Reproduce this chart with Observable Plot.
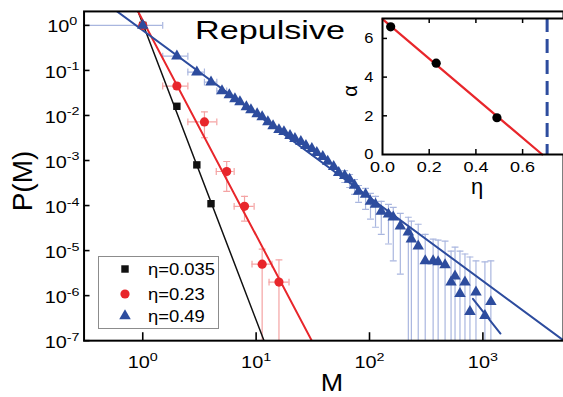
<!DOCTYPE html>
<html><head><meta charset="utf-8">
<script src="https://cdn.jsdelivr.net/npm/d3@7"></script>
<script src="https://cdn.jsdelivr.net/npm/@observablehq/plot@0.6"></script>
<style>
html,body{margin:0;padding:0;overflow:hidden;background:#fff;}
#wrap{position:relative;width:563px;height:397px;overflow:hidden;font-family:"Liberation Sans",Arial,sans-serif;}
#wrap > *{position:absolute;}
</style></head><body><div id="wrap"></div>
<script>
// ---------- data ----------
const seriesNames = ["η=0.035", "η=0.23", "η=0.49"];
const seriesColors = ["#111111", "#e8262b", "#2d4c9e"];
const errColors = ["#888888", "#f4a3a3", "#a9b6df"];

const blackM = [1, 2, 3, 4];
const blackP = [1, 0.016, 8.0e-4, 1.1e-4];

const redM = [1, 2, 3.5, 5.5, 7.9, 11.3, 15.9];
const redP = [1, 0.045, 0.0072, 5.7e-4, 9.6e-5, 5.0e-6, 2.0e-6];
const redMlo = [null, 1.5, 2.5, 4.45, 6.4, 9.2, 13.0];
const redMhi = [null, 2.5, 4.5, 6.4, 9.6, 13.8, 19.5];
const redPlo = [null, 0.038, 0.0032, 2.06e-4, 4.5e-5, 1e-9, 1e-9];
const redPhi = [null, 0.053, 0.012, 9.5e-4, 1.6e-4, 1.08e-5, 6.2e-6];

const blueM = [1, 2, 3, 4, 5, 5.8, 6.5, 7.2, 8.2, 9.0, 10.2, 11.3, 12.7, 14.1, 15.9, 17.6, 19.9, 22.0, 24.8, 27.5,
  31.0, 34.3, 38.7, 42.8, 48.3, 53.5, 60.4, 66.8, 73.8, 80.1, 92.3, 102, 113, 127, 147, 162, 187, 220, 234, 269,
  310, 364, 403, 464, 524, 568, 628, 695, 769, 869, 1042, 1176];
const blueP = [1, 0.207, 0.092, 0.055, 0.035, 0.0285, 0.0232, 0.0200, 0.0155, 0.0133, 0.0108, 0.00931, 0.00722, 0.00589, 0.00481, 0.00434, 0.00355, 0.00304, 0.00261, 0.00213,
  0.00183, 0.00149, 0.00122, 9.5e-4, 7.3e-4, 5.4e-4, 4.6e-4, 3.8e-4, 2.8e-4, 2.06e-4, 1.77e-4, 1.24e-4, 1.06e-4, 7.4e-5, 6.4e-5, 5.5e-5, 3.5e-5, 2.56e-5, 1.79e-5, 1.26e-5,
  5.9e-6, 5.9e-6, 5.6e-6, 4.8e-6, 2.0e-6, 2.7e-6, 1.1e-6, 2.0e-6, 4.4e-7, 1.2e-6, 3.6e-7, 7.3e-7];
// horizontal error bars (first points)
const blueXerrM = [1, 2, 3, 4, 5];
const blueXerrP = [1, 0.207, 0.092, 0.055, 0.035];
const blueXerrLo = [0.25, 1.5, 2.5, 3.5, 4.5];
const blueXerrHi = [1.5, 2.5, 3.5, 4.5, 5.5];
// vertical error bars (tail points, M from 60.4 on)
const blueYerrM = [60.4, 66.8, 73.8, 80.1, 92.3, 102, 113, 127, 147, 162, 187, 220, 234, 269, 310, 364, 403, 464, 524, 568, 628, 695, 769, 869, 1042, 1176];
const blueYerrHi = [5.98e-4, 4.89e-4, 3.79e-4, 2.79e-4, 2.40e-4, 1.86e-4, 1.60e-4, 1.24e-4, 1.06e-4, 9.1e-5, 6.7e-5, 5.5e-5, 4.5e-5, 3.85e-5, 2.3e-5, 1.79e-5, 1.71e-5, 1.62e-5, 9.75e-6, 1.19e-5, 9.75e-6, 8.4e-6, 7.2e-6, 5.9e-6, 5.6e-6, 5.9e-6];
const blueYerrLo = [3.25e-4, 2.52e-4, 1.77e-4, 1.18e-4, 8.2e-5, 5.0e-5, 3.3e-5, 2.3e-5, 1.4e-5, 5.9e-6, 3.0e-6, 1e-9, 1e-9, 1e-9, 1e-9, 1e-9, 1e-9, 1e-9, 1e-9, 1e-9, 1e-9, 1e-9, 1e-9, 1e-9, 1e-9, 1e-9];
// short line in the tail of the η=0.49 data
const blueTailM = [817, 1430];
const blueTailP = [8.5e-7, 1.44e-7];

// power-law fits P = A * M^-alpha
const fitA = [1.09, 1.29, 0.776];
const fitAlpha = [6.58, 4.77, 1.855];
const fitRange = [0.25, 6000];

// axes
const xTickExp = [0, 1, 2, 3];
const yTickExp = [0, -1, -2, -3, -4, -5, -6, -7];
const xDomain = [0.3036, 5140];
const yDomain = [1e-7, 2.04];

// inset: alpha vs eta
const insetEta = [0.035, 0.23, 0.49];
const insetAlpha = [6.6, 4.72, 1.9];
const insetFitAlpha0 = 7.0;   // alpha at eta = 0
const insetFitEtaC = 0.684;   // alpha = 0 crossing
const insetDashedEta = 0.705;
const insetXTicks = [0.0, 0.2, 0.4, 0.6];
const insetYTicks = [0, 2, 4, 6];
const insetXDomain = [0, 0.788];
const insetYDomain = [0, 7.03];

// ---------- build ----------
const NS = "http://www.w3.org/2000/svg";
const FONT = "Liberation Sans, Arial, Helvetica, sans-serif";
const wrap = document.getElementById("wrap");

const rows = (M, P, extra = {}) => M.map((m, i) => {
  const o = {M: m, P: P[i]};
  for (const k in extra) o[k] = extra[k][i];
  return o;
});
const black = rows(blackM, blackP);
const red = rows(redM, redP, {Mlo: redMlo, Mhi: redMhi, Plo: redPlo, Phi: redPhi}).filter(d => d.Mlo != null);
const redAll = rows(redM, redP);
const blue = rows(blueM, blueP);
const blueX = rows(blueXerrM, blueXerrP, {Mlo: blueXerrLo, Mhi: blueXerrHi});
const blueY = blueYerrM.map((m, i) => ({M: m, Plo: blueYerrLo[i], Phi: blueYerrHi[i]}));
const blueTail = rows(blueTailM, blueTailP);
const fits = fitA.map((A, i) => fitRange.map(M => ({M, P: A * Math.pow(M, -fitAlpha[i]), s: i}))).flat();

const hcap = {draw(ctx, size) { const w = Math.sqrt(size); ctx.moveTo(-w / 2, 0); ctx.lineTo(w / 2, 0); }};
const vcap = {draw(ctx, size) { const h = Math.sqrt(size); ctx.moveTo(0, -h / 2); ctx.lineTo(0, h / 2); }};

const W = 566, H = 397, ML = 84, MT = 11, MB = 55, MR = 0;
const PW = W - ML - MR, PH = H - MT - MB;
const xTicks = xTickExp.map(e => Math.pow(10, e));
const yTicks = yTickExp.map(e => Math.pow(10, e));
const expFmt = d => "10^" + Math.round(Math.log10(d));

const capR = 3.9;
function errMarks(data, color, hasX, hasY) {
  const m = [];
  if (hasY) {
    m.push(Plot.ruleX(data, {x: "M", y1: "Plo", y2: "Phi", stroke: color, strokeWidth: 1.2, clip: true}));
    m.push(Plot.dot(data, {x: "M", y: "Phi", symbol: hcap, r: capR, stroke: color, fill: "none", strokeWidth: 1.2, clip: true}));
    m.push(Plot.dot(data.filter(d => d.Plo > 1e-7), {x: "M", y: "Plo", symbol: hcap, r: capR, stroke: color, fill: "none", strokeWidth: 1.2, clip: true}));
  }
  if (hasX) {
    m.push(Plot.ruleY(data, {y: "P", x1: "Mlo", x2: "Mhi", stroke: color, strokeWidth: 1.2, clip: true}));
    m.push(Plot.dot(data.filter(d => d.Mlo > xDomain[0]), {x: "Mlo", y: "P", symbol: vcap, r: capR, stroke: color, fill: "none", strokeWidth: 1.2, clip: true}));
    m.push(Plot.dot(data, {x: "Mhi", y: "P", symbol: vcap, r: capR, stroke: color, fill: "none", strokeWidth: 1.2, clip: true}));
  }
  return m;
}

const main = Plot.plot({
  width: W, height: H, marginLeft: ML, marginTop: MT, marginBottom: MB, marginRight: MR,
  style: {fontFamily: FONT, background: "transparent", color: "#000"},
  x: {type: "log", domain: xDomain},
  y: {type: "log", domain: yDomain},
  marks: [
    ...errMarks(blueX, errColors[2], true, false),
    ...errMarks(blueY, errColors[2], false, true),
    ...errMarks(red, errColors[1], true, true),
    Plot.line(fits.filter(d => d.s === 0), {x: "M", y: "P", stroke: seriesColors[0], strokeWidth: 1.5, clip: true}),
    Plot.line(fits.filter(d => d.s === 1), {x: "M", y: "P", stroke: seriesColors[1], strokeWidth: 2, clip: true}),
    Plot.line(fits.filter(d => d.s === 2), {x: "M", y: "P", stroke: seriesColors[2], strokeWidth: 2, clip: true}),
    Plot.line(blueTail, {x: "M", y: "P", stroke: seriesColors[2], strokeWidth: 2, clip: true}),
    Plot.dot(black, {x: "M", y: "P", symbol: "square", r: 4.2, fill: seriesColors[0]}),
    Plot.dot(redAll, {x: "M", y: "P", symbol: "circle", r: 4.6, fill: seriesColors[1]}),
    Plot.dot(blue, {x: "M", y: "P", symbol: "triangle", r: 4.3, fill: seriesColors[2]}),
    Plot.frame({stroke: "#000", strokeWidth: 2}),
    Plot.ruleY(yTicks, {y: d => d, insetRight: PW - 6, stroke: "#000", strokeWidth: 1.6}),
    Plot.ruleX(xTicks, {x: d => d, insetTop: PH - 8, stroke: "#000", strokeWidth: 1.6}),
    Plot.axisY(yTicks, {tickSize: 0, tickPadding: 22, textAnchor: "middle", dy: 2, fontSize: 16, label: null, tickFormat: expFmt}),
    Plot.axisX(xTicks, {tickSize: 0, tickPadding: 16, fontSize: 16, label: null, tickFormat: expFmt})
  ]
});
wrap.append(main);
main.style.left = "0px"; main.style.top = "0px";

function fixText(svg, sel, sx) {
  svg.querySelectorAll(sel).forEach(t => {
    const s = t.textContent;
    if (s.includes("^")) {
      const [b, e] = s.split("^");
      t.textContent = "";
      const a = document.createElementNS(NS, "tspan"); a.textContent = b; t.append(a);
      const c = document.createElementNS(NS, "tspan");
      c.setAttribute("dy", "-0.62em"); c.setAttribute("font-size", "0.72em"); c.textContent = e; t.append(c);
    }
    const tr = t.getAttribute("transform") || "";
    t.setAttribute("transform", tr + ` scale(${sx},1)`);
  });
}
fixText(main, 'g[aria-label="y-axis tick label"] text', 1.25);
fixText(main, 'g[aria-label="x-axis tick label"] text', 1.25);

// ---------- inset ----------
const IL = 30, IT = 1, IB = 45, IPW = 184, IPH = 136;
const insetPts = insetEta.map((e, i) => ({eta: e, alpha: insetAlpha[i]}));
const insetFit = [0, insetFitEtaC].map(e => ({eta: e, alpha: insetFitAlpha0 * (1 - e / insetFitEtaC)}));
const inset = Plot.plot({
  width: IL + IPW, height: IT + IPH + IB, marginLeft: IL, marginTop: IT, marginBottom: IB, marginRight: 0,
  style: {fontFamily: FONT, background: "transparent", color: "#000"},
  x: {domain: insetXDomain},
  y: {domain: insetYDomain},
  marks: [
    Plot.frame({fill: "white", stroke: "none"}),
    Plot.ruleX([insetDashedEta], {x: d => d, stroke: "#2d4c9e", strokeWidth: 3, strokeDasharray: "14,7"}),
    Plot.line(insetFit, {x: "eta", y: "alpha", stroke: "#e8262b", strokeWidth: 2.2}),
    Plot.dot(insetPts, {x: "eta", y: "alpha", r: 4.6, fill: "#000"}),
    Plot.frame({stroke: "#000", strokeWidth: 2}),
    Plot.ruleX(insetXTicks.slice(1), {x: d => d, insetTop: IPH - 5, stroke: "#000", strokeWidth: 1.5}),
    Plot.ruleX(insetXTicks.slice(1), {x: d => d, insetBottom: IPH - 5, stroke: "#000", strokeWidth: 1.5}),
    Plot.ruleY(insetYTicks.slice(1), {y: d => d, insetRight: IPW - 5, stroke: "#000", strokeWidth: 1.5}),
    Plot.axisX(insetXTicks, {tickSize: 0, tickPadding: 7, fontSize: 15, label: null, tickFormat: d3.format(".1f")}),
    Plot.axisY(insetYTicks, {tickSize: 0, tickPadding: 9, fontSize: 15, label: null})
  ]
});
wrap.append(inset);
inset.style.left = (382 - IL) + "px"; inset.style.top = (18 - IT) + "px";
fixText(inset, 'g[aria-label="y-axis tick label"] text', 1.1);
fixText(inset, 'g[aria-label="x-axis tick label"] text', 1.2);

// ---------- overlay: title, axis labels, legend ----------
const ov = d3.create("svg").attr("width", 563).attr("height", 397)
  .style("left", "0px").style("top", "0px").style("pointer-events", "none")
  .style("font-family", FONT);
ov.append("text").attr("x", 195).attr("y", 39).attr("font-size", 26)
  .attr("textLength", 150).attr("lengthAdjust", "spacingAndGlyphs").text("Repulsive");
ov.append("text").attr("transform", "translate(32,181) rotate(-90)").attr("text-anchor", "middle")
  .attr("font-size", 28).text("P(M)");
ov.append("text").attr("text-anchor", "middle").attr("font-size", 24)
  .attr("transform", "translate(332,391) scale(1.12,1)").text("M");
ov.append("text").attr("transform", "translate(357,91) rotate(-90)").attr("text-anchor", "middle")
  .attr("font-size", 20).text("α");
ov.append("text").attr("x", 477).attr("y", 194).attr("text-anchor", "middle").attr("font-size", 22).text("η");

const lg = ov.append("g");
lg.append("rect").attr("x", 98.5).attr("y", 256.5).attr("width", 120).attr("height", 72)
  .attr("fill", "white").attr("stroke", "#8c8c8c").attr("stroke-width", 1);
const legendSymbols = [d3.symbolSquare, d3.symbolCircle, d3.symbolTriangle];
const legendR = [4.2, 4.6, 4.3];
const legendY = [269, 294, 316];
seriesNames.forEach((name, i) => {
  lg.append("path").attr("transform", `translate(125,${legendY[i]})`)
    .attr("d", d3.symbol(legendSymbols[i], Math.PI * legendR[i] * legendR[i])())
    .attr("fill", seriesColors[i]);
  lg.append("text").attr("transform", `translate(148,${legendY[i] + 6}) scale(1.15,1)`)
    .attr("font-size", 16).text(name);
});
wrap.append(ov.node());
</script>
</body></html>
